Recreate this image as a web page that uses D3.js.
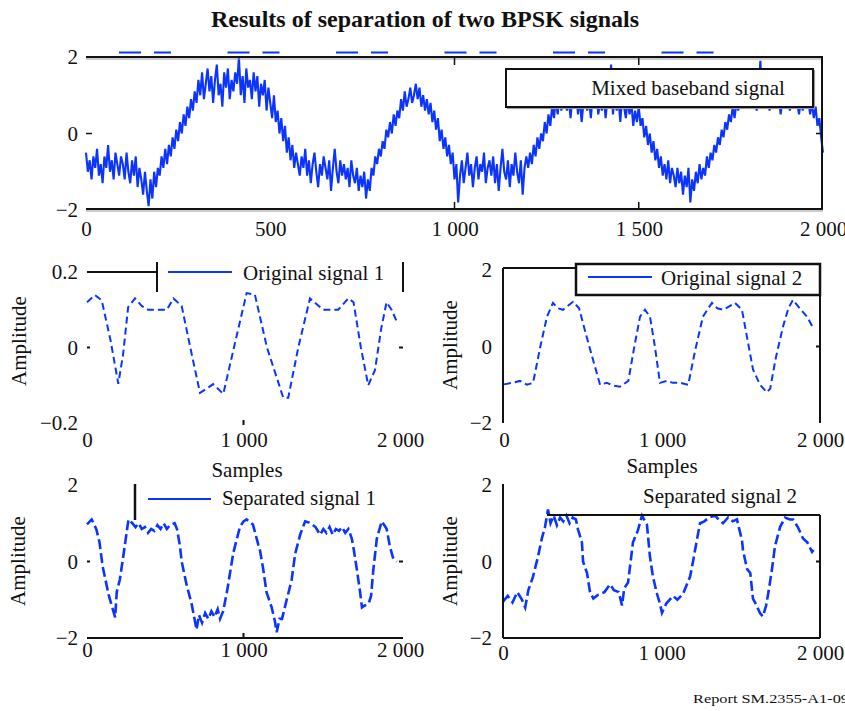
<!DOCTYPE html>
<html>
<head>
<meta charset="utf-8">
<script src="https://cdn.jsdelivr.net/npm/d3@7"></script>
<style>
  html, body { margin: 0; padding: 0; background: #fff; }
  svg { display: block; }
  text { font-family: "Liberation Serif", "Times New Roman", serif; fill: #111; }
</style>
</head>
<body>
<svg id="chart" width="845" height="711"></svg>
<script>
// ---- data -------------------------------------------------------------
const titleText = "Results of separation of two BPSK signals";
const footerText = "Report SM.2355-A1-09";

// mixed baseband signal, one value every STEP samples (0 … 2000)
const STEP = 5;
const mixedValues = [
  -0.5, -1.0, -0.7, -1.2, -0.6, -0.9, -0.4, -1.1, -0.8, -1.3, -0.6, -0.9, -0.3, -1.0, -0.7, -1.2, -0.5, -0.8, -1.1, -0.6,
  -0.8, -1.2, -0.5, -1.0, -1.3, -0.7, -1.1, -0.6, -1.4, -0.9, -1.2, -1.6, -1.0, -1.5, -1.9, -1.2, -1.7, -1.0, -1.4, -0.9,
  -1.1, -0.6, -0.9, -0.4, -0.8, -0.3, -0.6, -0.1, -0.4,  0.1, -0.2,  0.3,  0.0,  0.5,  0.2,  0.7,  0.4,  0.9,  0.6,  1.1,
   0.8,  1.4,  1.0,  1.6,  0.9,  1.3,  1.7,  1.1,  1.5,  0.8,  1.4,  1.8,  1.0,  1.3,  0.7,  1.6,  1.2,  1.7,  0.9,  1.4,
   1.1,  1.6,  1.3,  2.0,  1.0,  1.5,  0.8,  1.7,  1.2,  1.4,  0.9,  1.6,  1.1,  1.5,  0.7,  1.3,  1.0,  1.4,  0.6,  1.2,
   0.8,  0.4,  1.0,  0.3,  0.6,  0.0,  0.4, -0.2,  0.2, -0.5, -0.1, -0.7, -0.3, -0.9, -0.5, -0.8, -1.1, -0.6, -0.9, -0.4,
  -1.1, -0.7, -1.3, -0.8, -0.5, -1.0, -1.4, -0.8, -1.1, -0.6, -0.9, -1.2, -0.7, -1.5, -0.9, -0.4, -1.0, -1.3, -0.7, -1.1,
  -0.8, -1.2, -0.9, -1.4, -0.7, -1.1, -1.3, -0.9, -1.5, -1.1, -1.4, -1.0, -1.7, -1.2, -1.5, -0.9, -1.1, -0.6, -0.8, -0.4,
  -0.6, -0.2, -0.4,  0.1, -0.1,  0.3,  0.0,  0.5,  0.2,  0.6,  0.4,  0.9,  0.6,  1.1,  0.7,  0.9,  1.2,  0.8,  1.0,  1.3,
   0.9,  1.2,  0.7,  1.0,  0.6,  0.9,  0.5,  0.8,  0.3,  0.6,  0.1,  0.4, -0.2,  0.1, -0.4, -0.1, -0.6, -0.3, -0.8, -0.5,
  -1.2, -0.8, -1.8, -1.1, -0.7, -1.3, -0.9, -0.5, -1.1, -0.8, -1.4, -0.9, -0.6, -1.2, -0.8, -1.0, -0.5, -1.3, -0.9, -0.7,
  -1.1, -0.6, -1.3, -0.8, -1.5, -0.9, -0.4, -1.0, -1.2, -0.7, -1.4, -0.8, -1.1, -0.5, -1.0, -1.3, -0.7, -1.6, -0.9, -0.6,
  -0.9, -0.5, -0.8, -0.3, -0.6, -0.1, -0.4,  0.0, -0.2,  0.3,  0.0,  0.5,  0.2,  0.7,  0.4,  0.9,  0.5,  1.0,  0.6,  0.9,
   1.1,  0.6,  0.9,  0.4,  1.0,  0.7,  1.2,  0.5,  0.9,  0.3,  0.8,  1.1,  0.6,  0.9,  0.4,  1.0,  0.7,  1.2,  0.5,  0.8,
   0.6,  1.0,  0.4,  0.9,  0.7,  1.8,  0.5,  1.1,  0.6,  0.9,  0.3,  1.0,  0.7,  0.4,  0.9,  0.5,  0.8,  0.2,  0.6,  0.3,
   0.7,  0.2,  0.4, -0.1,  0.2, -0.3,  0.0, -0.5, -0.2, -0.7, -0.4, -0.9, -0.6, -1.1, -0.8, -1.2, -0.7, -1.3, -0.9, -1.1,
  -1.4, -0.9, -1.3, -1.0, -1.6, -1.1, -1.4, -0.9, -1.8, -1.2, -1.5, -1.0, -1.3, -0.8, -1.2, -0.9, -1.1, -0.6, -0.9, -0.5,
  -0.7, -0.3, -0.5, -0.1, -0.3,  0.1, -0.1,  0.3,  0.1,  0.5,  0.3,  0.7,  0.4,  0.8,  0.6,  1.0,  0.7,  1.1,  0.8,  1.2,
   0.7,  1.1,  0.8,  1.2,  0.6,  1.0,  1.9,  0.9,  1.2,  0.7,  1.0,  0.6,  1.1,  0.8,  1.3,  0.7,  1.0,  0.5,  0.9,  1.2,
   0.8,  1.1,  0.6,  1.0,  0.7,  1.2,  0.8,  0.5,  0.9,  0.6,  1.0,  0.7,  0.9,  0.5,  0.8,  0.4,  0.7,  0.2,  0.4, -0.1,
  -0.5
];

// [sample, amplitude]
const original1 = [
  [0, 0.12], [51, 0.139], [94, 0.125], [150, 0.02], [200, -0.096], [230, -0.02],
  [263, 0.107], [307, 0.13], [350, 0.11], [391, 0.1], [510, 0.1], [552, 0.13],
  [605, 0.11], [660, 0.0], [722, -0.12], [760, -0.11], [806, -0.097], [871, -0.123],
  [950, 0.02], [1020, 0.144], [1073, 0.14], [1150, 0.0], [1254, -0.133], [1286, -0.133],
  [1350, 0.0], [1425, 0.13], [1508, 0.1], [1605, 0.1], [1670, 0.13], [1703, 0.12],
  [1750, 0.0], [1797, -0.1], [1840, -0.06], [1880, 0.05], [1914, 0.12], [1946, 0.1],
  [1978, 0.07]
];

const original2 = [
  [0, -0.99], [50, -0.95], [101, -0.9], [145, -1.0], [184, -0.95], [230, 0.0],
  [272, 0.78], [310, 1.14], [340, 1.0], [373, 0.96], [437, 1.17], [475, 1.0],
  [520, 0.3], [563, -0.34], [608, -1.0], [650, -0.95], [690, -1.02], [734, -1.05],
  [787, -0.9], [825, 0.0], [861, 0.78], [892, 0.96], [924, 0.78], [955, 0.0],
  [987, -0.95], [1030, -0.9], [1070, -0.95], [1114, -0.95], [1166, -1.0], [1210, -0.1],
  [1259, 0.78], [1316, 1.14], [1350, 1.0], [1390, 0.96], [1462, 1.14], [1506, 0.96],
  [1540, 0.2], [1576, -0.6], [1620, -1.0], [1664, -1.2], [1685, -1.1], [1720, -0.3],
  [1766, 0.52], [1800, 1.0], [1829, 1.22], [1871, 1.0], [1918, 0.78], [1956, 0.49]
];

const separated1 = [
  [0, 0.97], [30, 1.1], [60, 0.84], [80, 0.5], [100, -0.13], [140, -0.9],
  [180, -1.46], [190, -0.8], [210, -0.47], [240, 0.37], [265, 1.1], [290, 1.0],
  [310, 0.9], [330, 1.0], [350, 0.85], [370, 0.9], [390, 0.75], [410, 0.85],
  [430, 0.8], [450, 0.95], [470, 0.85], [490, 1.0], [510, 0.85], [530, 0.95],
  [560, 1.0], [575, 0.85], [594, 0.4], [605, 0.0], [636, -0.6], [668, -1.1],
  [700, -1.78], [715, -1.4], [735, -1.6], [755, -1.35], [775, -1.5], [795, -1.3],
  [815, -1.45], [835, -1.25], [850, -1.5], [870, -1.3], [894, -0.8], [935, 0.23],
  [977, 0.9], [1000, 1.05], [1020, 1.1], [1060, 0.97], [1094, 0.45], [1105, 0.3],
  [1126, -0.2], [1147, -0.8], [1180, -1.2], [1200, -1.55], [1212, -1.85], [1230, -1.5],
  [1246, -1.5], [1276, -1.0], [1307, -0.5], [1330, 0.2], [1362, 0.7], [1394, 1.05],
  [1430, 1.0], [1460, 0.9], [1490, 0.7], [1510, 0.85], [1530, 0.75], [1550, 0.9],
  [1570, 0.7], [1590, 0.85], [1610, 0.8], [1630, 0.9], [1650, 0.75], [1670, 0.85],
  [1692, 0.6], [1705, 0.3], [1724, -0.2], [1745, -0.8], [1757, -1.2], [1775, -1.15],
  [1800, -1.1], [1815, -0.9], [1830, -0.2], [1852, 0.6], [1883, 1.05], [1900, 0.95],
  [1915, 0.85], [1935, 0.4], [1955, 0.1], [1980, 0.0]
];

const separated2 = [
  [0, -1.05], [30, -0.9], [60, -1.07], [90, -0.8], [120, -1.0], [140, -1.2],
  [160, -0.75], [189, -0.4], [221, 0.13], [246, 0.62], [265, 0.9], [284, 1.36],
  [300, 1.0], [320, 1.2], [340, 0.95], [360, 1.15], [380, 1.05], [400, 1.2],
  [420, 1.0], [440, 1.15], [460, 1.1], [473, 0.84], [498, 0.5], [505, 0.0],
  [530, -0.3], [549, -0.8], [570, -0.97], [600, -0.87], [640, -0.8], [675, -0.6],
  [700, -0.75], [730, -0.8], [751, -1.15], [765, -0.7], [789, -0.55], [820, 0.5],
  [850, 0.8], [877, 1.2], [908, 0.97], [927, 0.13], [946, -0.4], [972, -0.85],
  [990, -1.1], [1003, -1.34], [1030, -1.1], [1073, -0.9], [1100, -1.0], [1136, -0.85],
  [1160, -0.6], [1180, -0.4], [1199, 0.0], [1224, 0.58], [1243, 1.0], [1270, 1.05],
  [1300, 1.15], [1338, 1.2], [1360, 1.1], [1388, 1.0], [1420, 1.15], [1450, 1.05],
  [1476, 1.1], [1508, 0.55], [1514, 0.3], [1540, -0.2], [1560, -0.3], [1577, -0.97],
  [1600, -1.15], [1621, -1.35], [1640, -1.44], [1660, -1.15], [1675, -0.8], [1697, -0.2],
  [1716, 0.4], [1748, 0.9], [1779, 1.15], [1810, 1.1], [1830, 1.1], [1860, 0.9],
  [1893, 0.6], [1920, 0.5], [1950, 0.25], [1960, 0.3]
];

const xTicksWide = [0, 500, 1000, 1500, 2000];
const xTicksNarrow = [0, 1000, 2000];
const yTicksUnit = [-2, 0, 2];
const yTicksSmall = [-0.2, 0, 0.2];

// ---- setup ------------------------------------------------------------
const BLUE = "#0b35ff";
const INK = "#111";
const FONT = 21;

const locale = d3.formatLocale({ decimal: ".", thousands: " ", grouping: [3], currency: ["", ""], minus: "\u2212" });
const fmtInt = locale.format(",d");
const fmtSmall = d => d === 0 ? "0" : locale.format(".1f")(d);

const svg = d3.select("#chart");

function seg(g, x1, y1, x2, y2, w = 2, color = INK) {
  return g.append("line").attr("x1", x1).attr("y1", y1).attr("x2", x2).attr("y2", y2)
    .attr("stroke", color).attr("stroke-width", w);
}

function axisText(g, axis, tx, ty) {
  const a = g.append("g").attr("transform", `translate(${tx},${ty})`).call(axis);
  a.select(".domain").remove();
  a.attr("font-family", null).attr("font-size", null);
  a.selectAll("text").style("font-size", FONT + "px");
  return a;
}

function drawSignal(g, x, y, data, opts) {
  const line = d3.line().x(d => x(d[0])).y(d => y(d[1])).curve(opts.curve || d3.curveLinear);
  g.append("path").datum(data).attr("d", line)
    .attr("fill", "none").attr("stroke", BLUE)
    .attr("stroke-width", opts.width)
    .attr("stroke-dasharray", opts.dash || null)
    .attr("stroke-linejoin", "miter");
}

// title
svg.append("text").attr("x", 425).attr("y", 27).attr("text-anchor", "middle")
  .style("font-size", "24px").style("font-weight", "bold").text(titleText);

// ---- top panel: mixed baseband signal ---------------------------------
{
  const g = svg.append("g");
  const x = d3.scaleLinear().domain([0, 2000]).range([86, 823]);
  const y = d3.scaleLinear().domain([-2, 2]).range([210, 57]);
  const mixed = mixedValues.map((v, i) => [i * STEP, v]);

  drawSignal(g, x, y, mixed, { width: 2.1 });

  // frame
  seg(g, x(0), y(2) + 2, x(2000), y(2) + 2, 1, "#999");
  seg(g, x(0), y(2), x(2000), y(2), 2);
  seg(g, x(2000) - 1, y(2), x(2000) - 1, y(-2), 2);
  seg(g, x(0), y(-2) - 1, x(2000), y(-2) - 1, 2);
  seg(g, x(0), y(-2) + 1, x(2000), y(-2) + 1, 1, "#999");
  [1000, 1500].forEach(t => {
    seg(g, x(t), y(2), x(t), y(2) + 8, 1.5);
    seg(g, x(t), y(-2) - 1, x(t), y(-2) - 8, 1.5);
  });
  seg(g, x(0), y(0), x(0) + 6, y(0), 1.5);
  seg(g, x(2000) - 7, y(0), x(2000) - 1, y(0), 1.5);

  // stray legend strokes above the frame
  seg(g, 119, 52.5, 720, 52.5, 2, BLUE).attr("stroke-dasharray", "22,13,17,56.5");

  // legend box
  g.append("rect").attr("x", 507.5).attr("y", 70.5).attr("width", 307).attr("height", 38)
    .attr("fill", "none").attr("stroke", "#999").attr("stroke-width", 1.2);
  g.append("rect").attr("x", 506).attr("y", 69).attr("width", 307).attr("height", 38)
    .attr("fill", "#fff").attr("stroke", INK).attr("stroke-width", 2);
  g.append("text").attr("x", 688).attr("y", 95).attr("text-anchor", "middle")
    .style("font-size", FONT + "px").text("Mixed baseband signal");

  axisText(g, d3.axisBottom(x).tickValues(xTicksWide).tickSize(0).tickPadding(11).tickFormat(fmtInt), 0, 210);
  axisText(g, d3.axisLeft(y).tickValues(yTicksUnit).tickSize(0).tickPadding(8).tickFormat(fmtInt), 86, 0);
}

// ---- middle left: original signal 1 -----------------------------------
{
  const g = svg.append("g");
  const x = d3.scaleLinear().domain([0, 2000]).range([87, 400]);
  const y = d3.scaleLinear().domain([-0.2, 0.2]).range([423, 272]);

  drawSignal(g, x, y, original1, { width: 2, dash: "7,4" });

  seg(g, x(0), 272, 157, 272, 2);
  seg(g, 157, 262, 157, 292, 2);
  seg(g, 403, 262, 403, 292, 2);
  seg(g, 168, 272, 232, 272, 2, BLUE);
  g.append("text").attr("x", 243).attr("y", 280).style("font-size", FONT + "px").text("Original signal 1");
  seg(g, 87, y(0), 90, y(0), 2);
  seg(g, 399, y(0), 403, y(0), 2);
  seg(g, x(1000), 420, x(1000), 425, 2);

  axisText(g, d3.axisBottom(x).tickValues(xTicksNarrow).tickSize(0).tickPadding(9).tickFormat(fmtInt), 0, 423);
  axisText(g, d3.axisLeft(y).tickValues(yTicksSmall).tickSize(0).tickPadding(9).tickFormat(fmtSmall), 87, 0);

  g.append("text").attr("x", 247).attr("y", 477).attr("text-anchor", "middle")
    .style("font-size", FONT + "px").text("Samples");
  g.append("text").attr("transform", "translate(26,341) rotate(-90)").attr("text-anchor", "middle")
    .style("font-size", FONT + "px").text("Amplitude");
}

// ---- middle right: original signal 2 ----------------------------------
{
  const g = svg.append("g");
  const x = d3.scaleLinear().domain([0, 2000]).range([504, 820]);
  const y = d3.scaleLinear().domain([-2, 2]).range([423, 270]);

  drawSignal(g, x, y, original2, { width: 2, dash: "7,4" });

  seg(g, 503, 268, 503, 423, 2);
  seg(g, 503, 268, 575, 268, 2);
  seg(g, 820, 295, 820, 423, 2);
  seg(g, 816, y(0), 820, y(0), 2);
  g.append("rect").attr("x", 576).attr("y", 264).attr("width", 244).attr("height", 31)
    .attr("fill", "#fff").attr("stroke", INK).attr("stroke-width", 2.5);
  seg(g, 588, 277, 652, 277, 2, BLUE);
  g.append("text").attr("x", 661).attr("y", 285).style("font-size", FONT + "px").text("Original signal 2");

  axisText(g, d3.axisBottom(x).tickValues(xTicksNarrow).tickSize(0).tickPadding(9).tickFormat(fmtInt), 0, 423);
  axisText(g, d3.axisLeft(y).tickValues(yTicksUnit).tickSize(0).tickPadding(11).tickFormat(fmtInt), 503, 0);

  g.append("text").attr("x", 662).attr("y", 473).attr("text-anchor", "middle")
    .style("font-size", FONT + "px").text("Samples");
  g.append("text").attr("transform", "translate(457,345) rotate(-90)").attr("text-anchor", "middle")
    .style("font-size", FONT + "px").text("Amplitude");
}

// ---- bottom left: separated signal 1 ----------------------------------
{
  const g = svg.append("g");
  const x = d3.scaleLinear().domain([0, 2000]).range([87, 400]);
  const y = d3.scaleLinear().domain([-2, 2]).range([638, 485]);

  drawSignal(g, x, y, separated1, { width: 2.6, dash: "10,4" });

  seg(g, 87, 638, 403, 638, 2);
  seg(g, x(1000), 633, x(1000), 638, 2);
  seg(g, 135, 484, 135, 520, 2.5);
  seg(g, 87, y(0), 90, y(0), 2);
  seg(g, 399, y(0), 403, y(0), 2);
  seg(g, 148, 499, 211, 499, 2, BLUE);
  g.append("text").attr("x", 222).attr("y", 505).style("font-size", FONT + "px").text("Separated signal 1");

  axisText(g, d3.axisBottom(x).tickValues(xTicksNarrow).tickSize(0).tickPadding(4).tickFormat(fmtInt), 0, 638);
  axisText(g, d3.axisLeft(y).tickValues(yTicksUnit).tickSize(0).tickPadding(9).tickFormat(fmtInt), 87, 0);

  g.append("text").attr("transform", "translate(25,561) rotate(-90)").attr("text-anchor", "middle")
    .style("font-size", FONT + "px").text("Amplitude");
}

// ---- bottom right: separated signal 2 ---------------------------------
{
  const g = svg.append("g");
  const x = d3.scaleLinear().domain([0, 2000]).range([503, 820]);
  const y = d3.scaleLinear().domain([-2, 2]).range([638, 485]);

  drawSignal(g, x, y, separated2, { width: 2.6, dash: "10,4" });

  seg(g, 503, 484, 503, 638, 2);
  seg(g, 503, 638, 820, 638, 2);
  seg(g, 820, 515, 820, 638, 2);
  seg(g, 547, 515, 820, 515, 2);
  seg(g, 816, y(0), 820, y(0), 2);
  g.append("text").attr("x", 720).attr("y", 503).attr("text-anchor", "middle")
    .style("font-size", FONT + "px").text("Separated signal 2");

  axisText(g, d3.axisBottom(x).tickValues(xTicksNarrow).tickSize(0).tickPadding(7).tickFormat(fmtInt), 0, 638);
  axisText(g, d3.axisLeft(y).tickValues(yTicksUnit).tickSize(0).tickPadding(11).tickFormat(fmtInt), 503, 0);

  g.append("text").attr("transform", "translate(457,561) rotate(-90)").attr("text-anchor", "middle")
    .style("font-size", FONT + "px").text("Amplitude");
}

// report reference
svg.append("text").attr("x", 693).attr("y", 703)
  .attr("textLength", 156).attr("lengthAdjust", "spacingAndGlyphs")
  .style("font-size", "13px").text(footerText);
</script>
</body>
</html>
